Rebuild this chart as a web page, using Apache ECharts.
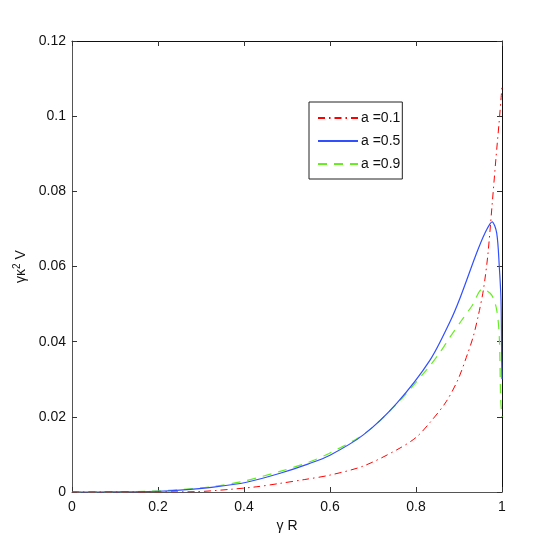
<!DOCTYPE html>
<html>
<head>
<meta charset="utf-8">
<script src="https://cdn.jsdelivr.net/npm/echarts@6/dist/echarts.min.js"></script>
<style>html,body{margin:0;padding:0;background:#fff;}#c{width:554px;height:554px;}</style>
</head>
<body>
<div id="c"></div>
<script>
var seriesNames = ['a =0.1', 'a =0.5', 'a =0.9'];
var xTicks = [0, 0.2, 0.4, 0.6, 0.8, 1];
var yTicks = [0, 0.02, 0.04, 0.06, 0.08, 0.1, 0.12];

var redX = [0, 0.1, 0.2, 0.29, 0.367, 0.43, 0.484, 0.54, 0.6, 0.6775, 0.755, 0.8, 0.8326, 0.87, 0.898, 0.92, 0.933, 0.945, 0.9566, 0.967, 0.977, 0.986, 0.993, 0.998, 1.0];
var redY = [0, 0, 0.00002, 0.0001, 0.0007, 0.0014, 0.0023, 0.0033, 0.0045, 0.0069, 0.0112, 0.0145, 0.0185, 0.024, 0.030, 0.0368, 0.0413, 0.047, 0.0537, 0.063, 0.0764, 0.0889, 0.098, 0.105, 0.108];

var blueX = [0, 0.1, 0.2, 0.251, 0.329, 0.406, 0.484, 0.55, 0.6, 0.6775, 0.755, 0.8326, 0.879, 0.902, 0.941, 0.96, 0.977, 0.9877, 0.9937, 0.9977, 0.9993, 1];
var blueY = [0, 0.00002, 0.0002, 0.0005, 0.0013, 0.0026, 0.005, 0.0075, 0.0098, 0.0152, 0.0236, 0.0351, 0.0453, 0.0515, 0.0636, 0.0688, 0.0719, 0.0689, 0.060, 0.051, 0.035, 0.03];

var greenX = [0, 0.1, 0.2, 0.25, 0.33, 0.4, 0.484, 0.55, 0.6, 0.68, 0.755, 0.828, 0.856, 0.879, 0.905, 0.93, 0.955, 0.976, 0.9877, 0.9937, 0.997, 1];
var greenY = [0, 0.00003, 0.0003, 0.0006, 0.0015, 0.0029, 0.0055, 0.0079, 0.0104, 0.0155, 0.0234, 0.033, 0.0372, 0.0412, 0.0455, 0.0495, 0.054, 0.0524, 0.0484, 0.0413, 0.0245, 0.02];

function pairs(xs, ys) { return xs.map(function (x, i) { return [x, ys[i]]; }); }

var FONT = 'Liberation Sans';
var chart = echarts.init(document.getElementById('c'));
function axisLine(c) { return { show: true, onZero: false, lineStyle: { color: c, width: 1 } }; }
var tick = { inside: true, length: 5, lineStyle: { color: '#333' } };
var option = {
  animation: false,
  backgroundColor: '#fff',
  grid: { left: 72, right: 52, top: 41, bottom: 62, containLabel: false },
  legend: {
    orient: 'vertical', left: 309, top: 102,
    padding: [9, 2, 8, 8], itemGap: 9, itemWidth: 40, itemHeight: 14,
    borderColor: '#222', borderWidth: 1, backgroundColor: '#fff',
    itemStyle: { opacity: 0, borderWidth: 0 },
    textStyle: { fontFamily: FONT, fontSize: 14, color: '#111', padding: [0, 0, 0, -2] },
    data: seriesNames
  },
  xAxis: [{
    type: 'value', min: 0, max: 1, interval: 0.2,
    name: 'γ R', nameLocation: 'middle', nameGap: 21,
    nameTextStyle: { fontFamily: FONT, fontSize: 14, color: '#111' },
    axisLine: axisLine('#555'), axisTick: tick,
    axisLabel: { fontFamily: FONT, fontSize: 14, color: '#111', margin: 8,
      formatter: function (v) { return String(+v.toFixed(2)); } },
    splitLine: { show: false }
  }, {
    type: 'value', min: 0, max: 1, interval: 0.2, position: 'top',
    axisLine: axisLine('#111'), axisTick: tick,
    axisLabel: { show: false }, splitLine: { show: false }
  }],
  yAxis: [{
    type: 'value', min: 0, max: 0.12, interval: 0.02,
    name: '{t|γκ}{s|2}{t| V}', nameLocation: 'middle', nameGap: 35, nameRotate: 90,
    nameTextStyle: { rich: {
      t: { fontFamily: FONT, fontSize: 14, color: '#111' },
      s: { fontFamily: FONT, fontSize: 10, color: '#111', verticalAlign: 'top', padding: [0, 0, 8, 0] }
    } },
    axisLine: axisLine('#555'), axisTick: tick,
    axisLabel: { fontFamily: FONT, fontSize: 14, color: '#111', margin: 6,
      formatter: function (v) { return String(+v.toFixed(2)); } },
    splitLine: { show: false }
  }, {
    type: 'value', min: 0, max: 0.12, interval: 0.02, position: 'right',
    axisLine: axisLine('#111'), axisTick: tick,
    axisLabel: { show: false }, splitLine: { show: false }
  }],
  series: [{
    name: seriesNames[0], type: 'line', data: pairs(redX, redY), smooth: 0.3, symbol: 'none',
    lineStyle: { color: '#ff0000', width: 1, type: [7, 4, 1.5, 4] }, itemStyle: { color: '#ff0000' }, z: 3
  }, {
    name: seriesNames[1], type: 'line', data: pairs(blueX, blueY), smooth: 0.3, symbol: 'none',
    lineStyle: { color: '#3050ff', width: 1.2, type: 'solid' }, itemStyle: { color: '#3050ff' }, z: 2
  }, {
    name: seriesNames[2], type: 'line', data: pairs(greenX, greenY), smooth: 0.3, symbol: 'none',
    lineStyle: { color: '#66ee22', width: 1.2, type: [9, 7] }, itemStyle: { color: '#66ee22' }, z: 1
  }]
};
chart.setOption(option);
</script>
</body>
</html>
